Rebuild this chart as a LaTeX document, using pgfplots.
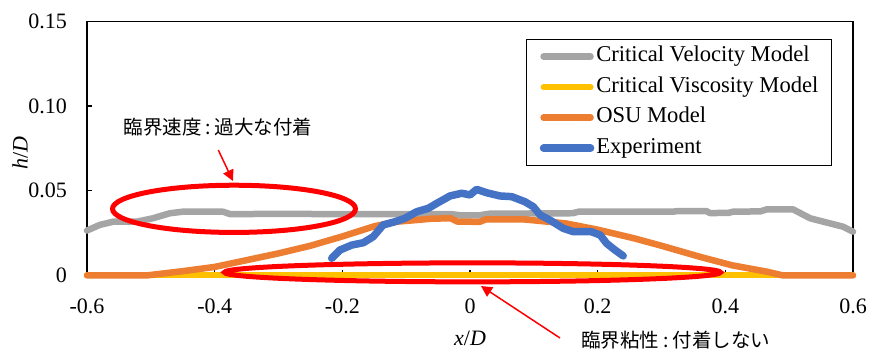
\documentclass[border=0pt]{standalone}
\usepackage{pgfplots}
\pgfplotsset{compat=1.18}
\usepackage{fontspec}
\setmainfont{Liberation Serif}
\newfontfamily\jp{Noto Sans CJK JP}
\usetikzlibrary{arrows.meta}
\definecolor{cgray}{HTML}{A5A5A5}
\definecolor{cyellow}{HTML}{FFC000}
\definecolor{corange}{HTML}{ED7D31}
\definecolor{cblue}{HTML}{4472C4}
\begin{document}
\begin{tikzpicture}
\useasboundingbox (-87pt,-73.6pt) rectangle (782pt,275.4pt);
\begin{axis}[
  scale only axis, width=766pt, height=254.1pt,
  xmin=-0.6, xmax=0.6, ymin=0, ymax=0.15,
  clip=false,
  axis line style={line width=1.2pt, black},
  tick pos=left, tick style={line width=1.2pt, black}, major tick length=5pt,
  xtick={-0.6,-0.4,-0.2,0,0.2,0.4,0.6},
  xticklabels={-0.6,-0.4,-0.2,0,0.2,0.4,0.6},
  ytick={0,0.05,0.1,0.15}, yticklabels={0,0.05,0.10,0.15},
  tick label style={font=\fontsize{22}{26}\selectfont, inner sep=0pt},
  xticklabel shift=23pt,
  yticklabel shift=20pt,
  xlabel={\textit{x}/\textit{D}}, ylabel={\textit{h}/\textit{D}},
  label style={font=\fontsize{22}{26}\selectfont, inner sep=0pt},
  xlabel style={at={([yshift=-63pt]axis description cs:0.5,0)}, anchor=center},
  ylabel style={at={([xshift=-67pt]axis description cs:0,0.482)}, anchor=center},
  legend style={at={(0.9726,0.93)}, anchor=north east, draw=black, line width=1.2pt,
    font=\fontsize{22.6}{26}\selectfont, inner xsep=13pt, inner ysep=7pt, row sep=10.5pt,
    nodes={inner sep=0pt, text height=15pt, text depth=5pt},
    /tikz/every odd column/.append style={column sep=2pt}},
  legend cell align=left,
  legend image code/.code={\draw[#1, line cap=round] (0pt,0pt) -- (47pt,0pt);},
  every axis plot/.append style={line cap=round, line join=round},
]
\addplot[cgray, line width=6.5pt] coordinates {
(-0.6,0.0265) (-0.58,0.0298) (-0.559,0.0317) (-0.522,0.0317) (-0.497,0.0337)
(-0.47,0.0367) (-0.45,0.0376) (-0.387,0.0376) (-0.376,0.0362) (-0.3,0.0363)
(-0.2,0.0362) (-0.1,0.0362) (-0.03,0.0362) (-0.015,0.0355) (0.015,0.0355)
(0.03,0.0364) (0.161,0.0367) (0.17,0.0376) (0.318,0.0376) (0.325,0.038)
(0.37,0.038) (0.376,0.0368) (0.405,0.0369) (0.412,0.0376) (0.455,0.0378)
(0.465,0.039) (0.506,0.039) (0.533,0.0337) (0.564,0.0307) (0.584,0.0288) (0.6,0.0258)
};
\addlegendentry{Critical Velocity Model}
\addplot[cyellow, line width=6pt] coordinates {(-0.6,0) (0.6,0)};
\addlegendentry{Critical Viscosity Model}
\addplot[corange, line width=6.5pt] coordinates {
(-0.6,0) (-0.506,0) (-0.45,0.0025) (-0.4,0.005) (-0.35,0.009) (-0.3,0.013)
(-0.25,0.0175) (-0.2,0.023) (-0.15,0.029) (-0.115,0.0317) (-0.08,0.0328)
(-0.06,0.0335) (-0.03,0.0337) (-0.02,0.0318) (0.015,0.0316) (0.025,0.0331)
(0.083,0.0331) (0.1,0.0325) (0.15,0.0307) (0.2,0.027) (0.256,0.022) (0.3,0.0175)
(0.36,0.011) (0.41,0.006) (0.465,0.0022) (0.49,0) (0.6,0)
};
\addlegendentry{OSU Model}
\addplot[cblue, line width=7.5pt] coordinates {
(-0.2167,0.0101) (-0.2037,0.0150) (-0.1853,0.0179) (-0.167,0.0193) (-0.1515,0.0229)
(-0.136,0.0298) (-0.1175,0.0317) (-0.102,0.0337) (-0.0835,0.0376) (-0.0653,0.0396)
(-0.0522,0.0425) (-0.0313,0.0469) (-0.013,0.0485) (0,0.0475) (0.0104,0.0508)
(0.026,0.0488) (0.047,0.0469) (0.0653,0.0465) (0.086,0.0435) (0.099,0.0406)
(0.1097,0.0357) (0.125,0.0327) (0.146,0.0278) (0.162,0.0258) (0.19,0.0258)
(0.204,0.0238) (0.214,0.0189) (0.227,0.0150) (0.240,0.0115)
};
\addlegendentry{Experiment}
\draw[red, line width=5pt] (axis cs:-0.3697,0.0393) ellipse [x radius=121.5pt, y radius=23.6pt];
\draw[red, line width=5pt] (axis cs:0.0039,0.0018) ellipse [x radius=248pt, y radius=9.5pt];
\draw[red, line width=1.5pt, -{Triangle[length=11pt, width=11pt]}] (axis cs:-0.3943,0.0740) -- (axis cs:-0.3713,0.0557);
\draw[red, line width=1.5pt, -{Triangle[length=11pt, width=11pt]}] (axis cs:0.141,-0.03695) -- (axis cs:0.0172,-0.00626);
\node[font=\jp\fontsize{19.5}{22}\selectfont, inner sep=0pt] at (axis cs:-0.3948,0.0876) {臨界速度\hspace{4pt}:\hspace{4pt}過大な付着};
\node[font=\jp\fontsize{19.5}{22}\selectfont, inner sep=0pt] at (axis cs:0.322,-0.0381) {臨界粘性\hspace{4pt}:\hspace{4pt}付着しない};
\end{axis}
\end{tikzpicture}
\end{document}
